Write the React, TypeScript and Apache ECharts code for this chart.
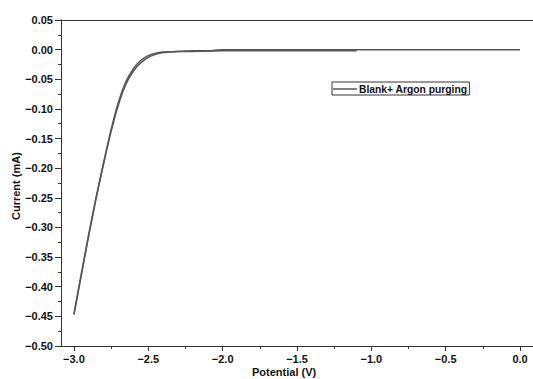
import React, { useEffect, useRef } from "react";
import * as echarts from "echarts";

const seriesName = "Blank+ Argon purging";

const forwardX = [0.0, -0.5, -1.0, -1.5, -2.0, -2.05, -2.1, -2.2, -2.3, -2.4, -2.45, -2.5, -2.55, -2.6, -2.65, -2.7, -2.75, -2.8, -2.85, -2.9, -2.95, -3.0];
const forwardY = [0.0, 0.0, 0.0, 0.0, 0.0, -0.001, -0.002, -0.002, -0.003, -0.005, -0.008, -0.013, -0.022, -0.036, -0.058, -0.092, -0.138, -0.192, -0.25, -0.313, -0.38, -0.447];

const reverseX = [-3.0, -2.95, -2.9, -2.85, -2.8, -2.75, -2.7, -2.65, -2.6, -2.55, -2.5, -2.45, -2.4, -2.3, -2.2, -2.0, -1.5, -1.1];
const reverseY = [-0.446, -0.378, -0.311, -0.248, -0.19, -0.135, -0.088, -0.054, -0.032, -0.018, -0.01, -0.006, -0.004, -0.003, -0.003, -0.002, -0.002, -0.002];

const xMajorTicks = [-3.0, -2.5, -2.0, -1.5, -1.0, -0.5, 0.0];
const xMinorTicks = [-2.75, -2.25, -1.75, -1.25, -0.75, -0.25];

const fmt = (v: number, d: number) => {
  const s = Math.abs(v).toFixed(d);
  return v < -1e-9 ? "\u2212" + s : s;
};

const font = "'Liberation Sans', Arial, sans-serif";

export default function App() {
  const ref = useRef<HTMLDivElement>(null);
  useEffect(() => {
    if (!ref.current) return;
    const chart = echarts.init(ref.current, undefined, { renderer: "svg" });
    const lineColor = "#555";
    const axisColor = "#333";
    chart.setOption({
      animation: false,
      backgroundColor: "#fff",
      grid: { left: 61, right: 0, top: 20, bottom: 33, containLabel: false },
      legend: {
        data: [seriesName],
        left: 332,
        top: 82,
        orient: "horizontal",
        borderColor: "#333",
        borderWidth: 1,
        borderRadius: 0,
        padding: [2, 2, 1, 1],
        itemWidth: 24,
        itemHeight: 1.5,
        itemGap: 0,
        icon: "rect",
        textStyle: { fontFamily: font, fontWeight: "bold", fontSize: 10.3, color: "#111", padding: [0, 0, 0, -3] },
      },
      xAxis: [
        {
          type: "value",
          position: "bottom",
          min: -3.087,
          max: 0.087,
          splitLine: { show: false },
          axisLine: { show: true, onZero: false, lineStyle: { color: axisColor, width: 1 } },
          axisTick: { show: true, inside: false, length: 5, customValues: xMajorTicks, lineStyle: { color: axisColor } },
          axisLabel: {
            show: true,
            customValues: xMajorTicks,
            margin: 7,
            formatter: (v: number) => fmt(v, 1),
            fontFamily: font,
            fontWeight: "bold",
            fontSize: 11,
            color: "#111",
          },
        },
        {
          type: "value",
          position: "bottom",
          min: -3.087,
          max: 0.087,
          splitLine: { show: false },
          axisLine: { show: false, onZero: false },
          axisTick: { show: true, inside: false, length: 3, customValues: xMinorTicks, lineStyle: { color: axisColor } },
          axisLabel: { show: false },
        },
        {
          type: "value",
          position: "top",
          min: -3.087,
          max: 0.087,
          splitLine: { show: false },
          axisLine: { show: true, onZero: false, lineStyle: { color: axisColor, width: 1 } },
          axisTick: { show: false },
          axisLabel: { show: false },
        },
      ],
      yAxis: {
        type: "value",
        min: -0.5,
        max: 0.05,
        interval: 0.05,
        splitLine: { show: false },
        axisLine: { show: true, onZero: false, lineStyle: { color: axisColor, width: 1 } },
        axisTick: { show: true, inside: false, length: 6, lineStyle: { color: axisColor } },
        minorTick: { show: true, splitNumber: 2, length: 3, lineStyle: { color: axisColor } },
        axisLabel: {
          margin: 8,
          formatter: (v: number) => fmt(v, 2),
          fontFamily: font,
          fontWeight: "bold",
          fontSize: 11,
          color: "#111",
        },
      },
      graphic: [
        {
          type: "text",
          left: 252,
          top: 366,
          style: { text: "Potential (V)", fontFamily: font, fontWeight: "bold", fontSize: 11, fill: "#111" },
        },
        {
          type: "text",
          x: 10,
          y: 220,
          rotation: Math.PI / 2,
          style: { text: "Current (mA)", fontFamily: font, fontWeight: "bold", fontSize: 11, fill: "#111" },
        },
      ],
      series: [
        {
          name: seriesName,
          type: "line",
          xAxisIndex: 0,
          showSymbol: false,
          symbol: "none",
          smooth: 0.2,
          lineStyle: { color: lineColor, width: 1.5 },
          itemStyle: { color: lineColor },
          data: forwardX.map((x, i) => [x, forwardY[i]]),
        },
        {
          name: seriesName,
          type: "line",
          xAxisIndex: 0,
          showSymbol: false,
          symbol: "none",
          smooth: 0.2,
          lineStyle: { color: lineColor, width: 1.5 },
          itemStyle: { color: lineColor },
          data: reverseX.map((x, i) => [x, reverseY[i]]),
        },
      ],
    });
    return () => chart.dispose();
  }, []);
  return (
    <div
      ref={ref}
      style={{ position: "fixed", left: 0, top: 0, width: 533, height: 379, background: "#fff" }}
    />
  );
}
